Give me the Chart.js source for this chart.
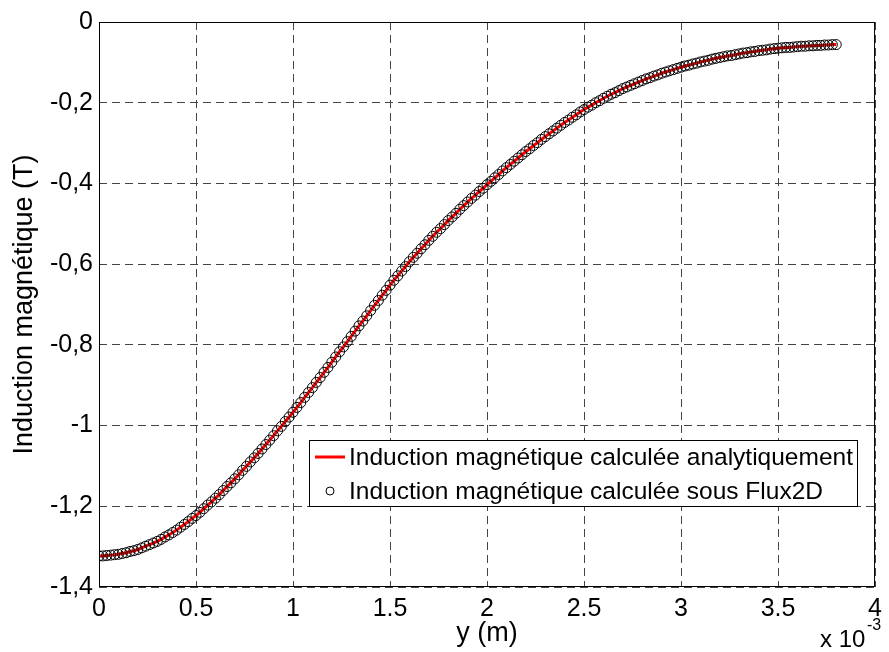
<!DOCTYPE html>
<html>
<head>
<meta charset="utf-8">
<script src="https://cdn.jsdelivr.net/npm/chart.js@4.4.1/dist/chart.umd.min.js"></script>
<style>
  html, body { margin: 0; padding: 0; background: #fff; }
  canvas { display: block; }
</style>
</head>
<body>
<canvas id="chart" width="889" height="652"></canvas>
<script>
// position y in mm (axis shows x 10^-3 m)
const positions = [
  0, 0.02, 0.04, 0.06, 0.08, 0.1, 0.12, 0.14, 0.16, 0.18,
  0.2, 0.22, 0.24, 0.26, 0.28, 0.3, 0.32, 0.34, 0.36, 0.38,
  0.4, 0.42, 0.44, 0.46, 0.48, 0.5, 0.52, 0.54, 0.56, 0.58,
  0.6, 0.62, 0.64, 0.66, 0.68, 0.7, 0.72, 0.74, 0.76, 0.78,
  0.8, 0.82, 0.84, 0.86, 0.88, 0.9, 0.92, 0.94, 0.96, 0.98,
  1.0, 1.02, 1.04, 1.06, 1.08, 1.1, 1.12, 1.14, 1.16, 1.18,
  1.2, 1.22, 1.24, 1.26, 1.28, 1.3, 1.32, 1.34, 1.36, 1.38,
  1.4, 1.42, 1.44, 1.46, 1.48, 1.5, 1.52, 1.54, 1.56, 1.58,
  1.6, 1.62, 1.64, 1.66, 1.68, 1.7, 1.72, 1.74, 1.76, 1.78,
  1.8, 1.82, 1.84, 1.86, 1.88, 1.9, 1.92, 1.94, 1.96, 1.98,
  2.0, 2.02, 2.04, 2.06, 2.08, 2.1, 2.12, 2.14, 2.16, 2.18,
  2.2, 2.22, 2.24, 2.26, 2.28, 2.3, 2.32, 2.34, 2.36, 2.38,
  2.4, 2.42, 2.44, 2.46, 2.48, 2.5, 2.52, 2.54, 2.56, 2.58,
  2.6, 2.62, 2.64, 2.66, 2.68, 2.7, 2.72, 2.74, 2.76, 2.78,
  2.8, 2.82, 2.84, 2.86, 2.88, 2.9, 2.92, 2.94, 2.96, 2.98,
  3.0, 3.02, 3.04, 3.06, 3.08, 3.1, 3.12, 3.14, 3.16, 3.18,
  3.2, 3.22, 3.24, 3.26, 3.28, 3.3, 3.32, 3.34, 3.36, 3.38,
  3.4, 3.42, 3.44, 3.46, 3.48, 3.5, 3.52, 3.54, 3.56, 3.58,
  3.6, 3.62, 3.64, 3.66, 3.68, 3.7, 3.72, 3.74, 3.76, 3.78,
  3.8
];

// induction (T), same curve for the analytic line and the Flux2D markers
const induction = [
  -1.323, -1.323, -1.322, -1.321, -1.320, -1.319, -1.317, -1.315, -1.312, -1.310,
  -1.307, -1.303, -1.299, -1.295, -1.291, -1.287, -1.282, -1.276, -1.271, -1.265,
  -1.259, -1.252, -1.245, -1.238, -1.230, -1.223, -1.215, -1.206, -1.197, -1.189,
  -1.180, -1.171, -1.161, -1.151, -1.142, -1.132, -1.122, -1.111, -1.101, -1.090,
  -1.080, -1.069, -1.058, -1.047, -1.036, -1.025, -1.013, -1.002, -0.990, -0.979,
  -0.967, -0.955, -0.943, -0.930, -0.918, -0.906, -0.893, -0.881, -0.868, -0.856,
  -0.843, -0.830, -0.817, -0.805, -0.792, -0.779, -0.766, -0.753, -0.741, -0.728,
  -0.715, -0.702, -0.690, -0.677, -0.665, -0.652, -0.640, -0.629, -0.617, -0.606,
  -0.594, -0.583, -0.573, -0.562, -0.552, -0.541, -0.531, -0.521, -0.512, -0.502,
  -0.492, -0.483, -0.474, -0.464, -0.455, -0.446, -0.437, -0.429, -0.420, -0.412,
  -0.403, -0.395, -0.386, -0.378, -0.369, -0.361, -0.353, -0.345, -0.337, -0.329,
  -0.321, -0.314, -0.306, -0.299, -0.291, -0.284, -0.277, -0.270, -0.263, -0.256,
  -0.249, -0.243, -0.236, -0.230, -0.223, -0.217, -0.211, -0.206, -0.200, -0.195,
  -0.189, -0.184, -0.179, -0.175, -0.170, -0.165, -0.161, -0.157, -0.153, -0.149,
  -0.145, -0.141, -0.138, -0.134, -0.131, -0.127, -0.124, -0.121, -0.118, -0.115,
  -0.112, -0.109, -0.107, -0.104, -0.102, -0.099, -0.097, -0.095, -0.092, -0.090,
  -0.088, -0.086, -0.084, -0.083, -0.081, -0.079, -0.077, -0.076, -0.074, -0.073,
  -0.071, -0.070, -0.069, -0.067, -0.066, -0.065, -0.064, -0.063, -0.063, -0.062,
  -0.061, -0.060, -0.060, -0.059, -0.059, -0.058, -0.058, -0.057, -0.057, -0.056,
  -0.056
];

const xTickLabels = ['0', '0.5', '1', '1.5', '2', '2.5', '3', '3.5', '4'];
const yTickLabels = ['-1,4', '-1,2', '-1', '-0,8', '-0,6', '-0,4', '-0,2', '0'];

const seriesNames = [
  'Induction magnétique calculée analytiquement',
  'Induction magnétique calculée sous Flux2D'
];

const FONT = '"Liberation Sans", Arial, sans-serif';
const points = positions.map((x, i) => ({ x: x, y: induction[i] }));

// frame, legend box and the x10^-3 multiplier, drawn MATLAB style
const matlabExtras = {
  id: 'matlabExtras',
  afterDraw(chart) {
    const ctx = chart.ctx;
    const a = chart.chartArea;
    ctx.save();
    ctx.strokeStyle = '#000';
    ctx.lineWidth = 1;
    ctx.strokeRect(a.left + 0.5, a.top + 0.5, a.right - a.left - 1, a.bottom - a.top - 1);

    // legend
    const lx = 309, ly = 440, lw = 548, lh = 66;
    ctx.fillStyle = '#fff';
    ctx.fillRect(lx, ly, lw, lh);
    ctx.strokeRect(lx + 0.5, ly + 0.5, lw, lh);
    ctx.strokeStyle = 'red';
    ctx.lineWidth = 3;
    ctx.beginPath();
    ctx.moveTo(315, 457);
    ctx.lineTo(345, 457);
    ctx.stroke();
    ctx.strokeStyle = '#000';
    ctx.lineWidth = 1;
    ctx.beginPath();
    ctx.arc(330, 491, 4, 0, Math.PI * 2);
    ctx.stroke();
    ctx.fillStyle = '#000';
    ctx.font = '24.5px ' + FONT;
    ctx.textBaseline = 'middle';
    ctx.textAlign = 'left';
    ctx.fillText(seriesNames[0], 349, 458);
    ctx.fillText(seriesNames[1], 349, 492);

    // exponent
    ctx.font = '24px ' + FONT;
    ctx.fillText('x 10', 820, 640);
    ctx.font = '16px ' + FONT;
    ctx.fillText('-3', 867, 626);
    ctx.restore();
  }
};

new Chart(document.getElementById('chart'), {
  type: 'line',
  data: {
    datasets: [
      {
        label: seriesNames[1],
        data: points,
        showLine: false,
        pointStyle: 'circle',
        pointRadius: 5,
        borderColor: '#000',
        borderWidth: 1,
        backgroundColor: 'rgba(0,0,0,0)',
        order: 0
      },
      {
        label: seriesNames[0],
        data: points,
        borderColor: 'rgb(255, 0, 0)',
        borderWidth: 3,
        pointRadius: 0,
        tension: 0,
        fill: false,
        order: 1
      }
    ]
  },
  options: {
    responsive: false,
    animation: false,
    layout: { padding: { left: 0, right: 10, top: 22, bottom: 0 } },
    plugins: {
      legend: { display: false },
      tooltip: { enabled: false }
    },
    scales: {
      x: {
        type: 'linear',
        min: 0,
        max: 4,
        ticks: {
          stepSize: 0.5,
          color: '#000',
          padding: 7,
          font: { family: FONT, size: 25 },
          maxRotation: 0,
          callback: (v) => xTickLabels[Math.round(v / 0.5)]
        },
        grid: { color: '#444', lineWidth: 1, drawTicks: false },
        border: { display: false, dash: [8, 5] },
        title: {
          display: true,
          text: 'y (m)',
          color: '#000',
          font: { family: FONT, size: 27 },
          padding: { top: 0, bottom: 2 }
        },
        afterFit(scale) { scale.height = 65; }
      },
      y: {
        type: 'linear',
        min: -1.4,
        max: 0,
        ticks: {
          stepSize: 0.2,
          color: '#000',
          padding: 6,
          font: { family: FONT, size: 25 },
          callback: (v) => yTickLabels[Math.round((v + 1.4) / 0.2)]
        },
        grid: { color: '#444', lineWidth: 1, drawTicks: false },
        border: { display: false, dash: [8, 5] },
        title: {
          display: true,
          text: 'Induction magnétique (T)',
          color: '#000',
          font: { family: FONT, size: 27 },
          padding: { top: 8, bottom: 0 }
        },
        afterFit(scale) { scale.width = 99; }
      }
    }
  },
  plugins: [matlabExtras]
});
</script>
</body>
</html>
